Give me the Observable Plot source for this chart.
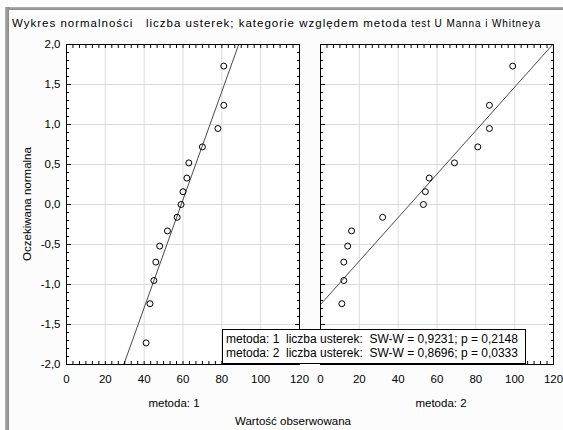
<!DOCTYPE html>
<html>
<head>
<meta charset="utf-8">
<script src="https://cdn.jsdelivr.net/npm/d3@7"></script>
<script src="https://cdn.jsdelivr.net/npm/@observablehq/plot@0.6"></script>
<style>
  html, body { margin: 0; padding: 0; background: #ffffff; }
  #root { position: relative; width: 563px; height: 430px; overflow: hidden; background: #fcfcfc;
          font-family: "Liberation Sans", Arial, sans-serif; color: #000; }
  .abs { position: absolute; white-space: nowrap; }
</style>
</head>
<body>
<div id="root"></div>
<script>
// ---- data ----
const groups = ["metoda: 1", "metoda: 2"];
const expectedNormal = [-1.73, -1.24, -0.95, -0.72, -0.52, -0.33, -0.16, 0, 0.16, 0.33, 0.52, 0.72, 0.95, 1.24, 1.73];
const observed1 = [41, 43, 45, 46, 48, 52, 57, 59, 60, 62, 63, 70, 78, 81, 81];
const observed2 = [10, 11, 12, 12, 14, 16, 32, 53, 54, 56, 69, 81, 87, 87, 99];
const fitMean = [59.1, 46.0];
const fitSd = [14.8, 36.8];
const xTicks = [0, 20, 40, 60, 80, 100, 120];
const yTicks = [-2, -1.5, -1, -0.5, 0, 0.5, 1, 1.5, 2];
const legendLines = [
  "metoda: 1  liczba usterek:  SW-W = 0,9231; p = 0,2148",
  "metoda: 2  liczba usterek:  SW-W = 0,8696; p = 0,0333"
];
const titleMain = "Wykres normalności   liczba usterek; kategorie względem metoda";
const titleSub = "test U Manna i Whitneya";
const xTitle = "Wartość obserwowana";
const yTitle = "Oczekiwana normalna";

const observed = [observed1, observed2];
const minorX = d3.range(0, 120.001, 20 / 6);
const minorY = d3.range(-20, 21).map(d => d / 10);
const fmtComma = d => d.toFixed(1).replace(".", ",");

const root = document.getElementById("root");

function panel(gi, left, width, mLeft, mRight, showY) {
  const pts = observed[gi].map((x, i) => ({x, y: expectedNormal[i]}));
  const fit = [-2.5, 2.5].map(y => ({y, x: fitMean[gi] + y * fitSd[gi]}));
  const marks = [
    Plot.frame({fill: "white", stroke: null}),
    Plot.gridX(xTicks, {stroke: "#dcdcdc", strokeOpacity: 1}),
    Plot.gridY(yTicks, {stroke: "#dcdcdc", strokeOpacity: 1}),
    Plot.line(fit, {x: "x", y: "y", stroke: "#4a4a4a", strokeWidth: 1, clip: true}),
    Plot.dot(pts, {x: "x", y: "y", r: 3, stroke: "black", strokeWidth: 1, fill: "none"}),
    Plot.frame({stroke: "black"}),
    Plot.axisY({anchor: "left", ticks: minorY, tickSize: 3, dx: 3, fill: "none", label: null}),
    Plot.axisY({anchor: "right", ticks: minorY, tickSize: 3, dx: -3, fill: "none", label: null}),
    Plot.axisX({anchor: "bottom", ticks: minorX, tickSize: 3, dy: -3, fill: "none", label: null}),
    Plot.axisX({anchor: "top", ticks: minorX, tickSize: 3, dy: 3, fill: "none", label: null}),
    Plot.axisY({anchor: "left", ticks: yTicks, tickSize: 5, dx: 5, fill: "none", label: null}),
    Plot.axisY({anchor: "right", ticks: yTicks, tickSize: 5, dx: -5, fill: "none", label: null}),
    Plot.axisX({anchor: "bottom", ticks: xTicks, tickSize: 0, tickPadding: 10, tickFormat: d => String(d), label: null})
  ];
  if (showY) marks.push(Plot.axisY({anchor: "left", ticks: yTicks, tickSize: 0, tickPadding: 6, tickFormat: fmtComma, label: null}));
  const svg = Plot.plot({
    width, height: 430,
    marginLeft: mLeft, marginRight: mRight, marginTop: 44, marginBottom: 66,
    x: {domain: [0, 120]},
    y: {domain: [-2, 2]},
    style: {background: "transparent", overflow: "visible", fontSize: "11.5px", fontFamily: "Liberation Sans, Arial, sans-serif", color: "black"},
    marks
  });
  svg.style.position = "absolute";
  svg.style.left = left + "px";
  svg.style.top = "0px";
  root.appendChild(svg);
}

panel(0, 0, 300, 66, 1, true);
panel(1, 300, 263, 20, 10, false);

// frame bars
const topBar = document.createElement("div");
topBar.className = "abs";
Object.assign(topBar.style, {left: "5px", top: "7px", width: "558px", height: "3px", background: "linear-gradient(#b0b0b0, #888888)"});
root.appendChild(topBar);
const leftBar = document.createElement("div");
leftBar.className = "abs";
Object.assign(leftBar.style, {left: "5px", top: "7px", width: "4px", height: "423px", background: "linear-gradient(90deg, #b0b0b0, #888888)"});
root.appendChild(leftBar);

// title
const title = document.createElement("div");
title.className = "abs";
Object.assign(title.style, {left: "12px", top: "17px", fontSize: "11.5px"});
const t1 = document.createElement("span"); t1.textContent = titleMain; t1.style.whiteSpace = "pre"; t1.style.letterSpacing = "1px";
const t2 = document.createElement("span"); t2.textContent = " " + titleSub; t2.style.fontSize = "10px"; t2.style.letterSpacing = "0.9px";
title.appendChild(t1); title.appendChild(t2);
root.appendChild(title);

// facet labels
[174, 441].forEach((c, i) => {
  const d = document.createElement("div");
  d.className = "abs";
  Object.assign(d.style, {left: (c - 100) + "px", width: "200px", top: "397px", textAlign: "center", fontSize: "11.5px"});
  d.textContent = groups[i];
  root.appendChild(d);
});

// x title
const xt = document.createElement("div");
xt.className = "abs";
Object.assign(xt.style, {left: "193px", width: "200px", top: "415px", textAlign: "center", fontSize: "11.5px"});
xt.textContent = xTitle;
root.appendChild(xt);

// y title
const yt = document.createElement("div");
yt.className = "abs";
Object.assign(yt.style, {left: "27px", top: "204px", fontSize: "11.5px", transform: "translate(-50%, -50%) rotate(-90deg)"});
yt.textContent = yTitle;
root.appendChild(yt);

// legend
const lg = document.createElement("div");
lg.className = "abs";
Object.assign(lg.style, {left: "222px", top: "329px", width: "299px", height: "31px", border: "1px solid black",
  background: "white", fontSize: "12px", lineHeight: "14px", padding: "2px 0 0 3px", boxSizing: "content-box"});
legendLines.forEach(s => { const r = document.createElement("div"); r.textContent = s; r.style.whiteSpace = "pre"; lg.appendChild(r); });
root.appendChild(lg);
</script>
</body>
</html>
